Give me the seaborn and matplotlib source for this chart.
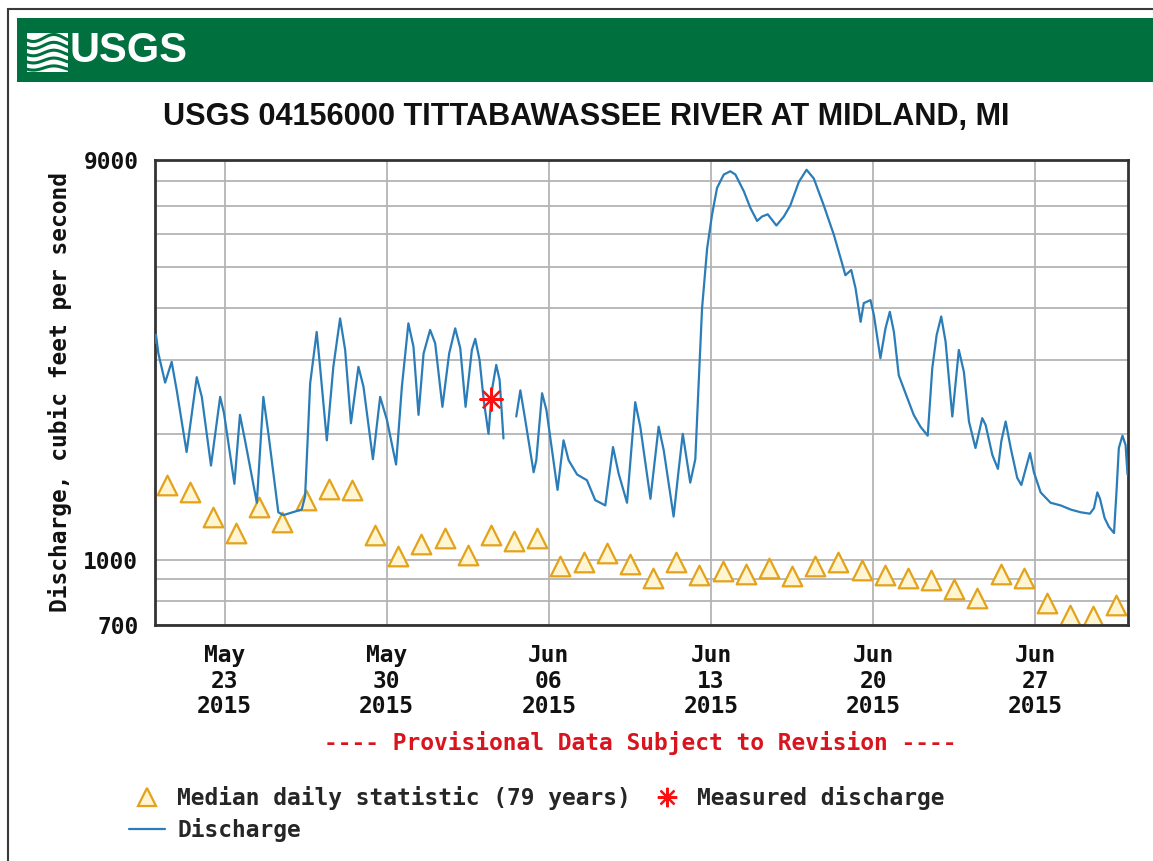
import numpy as np
import pandas as pd
import matplotlib
matplotlib.use("Agg")
import matplotlib.pyplot as plt
import matplotlib.dates as mdates
import matplotlib.ticker as mticker
from matplotlib.patches import Rectangle
from matplotlib.lines import Line2D
from matplotlib import font_manager
import seaborn as sns

# ---------------- data ----------------
median_start = "2015-05-20 12:00"
median_cfs = [1510, 1450, 1270, 1160, 1340, 1230, 1390, 1480, 1470, 1150,
              1020, 1090, 1130, 1030, 1150, 1110, 1130, 970, 990, 1040,
              980, 905, 990, 920, 940, 925, 955, 915, 970, 990,
              946, 920, 905, 895, 852, 810, 925, 905, 790, 740,
              736, 780]

measured_time = ["2015-06-03 12:15"]
measured_cfs = [2420]

dis_time_1 = ["05-20 00:15", "05-20 01:00", "05-20 03:30", "05-20 10:30", "05-20 17:15", "05-20 22:30",
              "05-21 08:45", "05-21 19:15", "05-22 00:30", "05-22 10:00", "05-22 19:30", "05-22 23:30",
              "05-23 10:15", "05-23 16:00", "05-23 21:15", "05-24 09:30", "05-24 16:15", "05-24 21:30",
              "05-25 07:45", "05-25 13:00", "05-26 08:00", "05-26 11:30", "05-26 16:45", "05-26 23:30",
              "05-27 03:00", "05-27 10:00", "05-27 16:45", "05-27 23:45", "05-28 05:00", "05-28 11:00",
              "05-28 18:45", "05-29 00:00", "05-29 09:45", "05-29 17:15", "05-30 00:15", "05-30 09:45",
              "05-30 15:45", "05-30 22:30", "05-31 03:45", "05-31 09:00", "05-31 14:15", "05-31 21:00",
              "06-01 02:15", "06-01 09:45", "06-01 16:45", "06-01 23:00", "06-02 04:15", "06-02 09:45",
              "06-02 16:15", "06-02 19:45", "06-03 00:15", "06-03 04:30", "06-03 09:30", "06-03 13:00",
              "06-03 17:30", "06-03 21:00", "06-04 01:00"]
dis_cfs_1 = [3300, 3450, 3110, 2650, 2970, 2540,
             1810, 2730, 2450, 1680, 2450, 2240,
             1520, 2220, 1930, 1370, 2450, 2000,
             1300, 1280, 1320, 1420, 2640, 3500,
             2890, 1930, 2890, 3770, 3170, 2120,
             2890, 2590, 1740, 2450, 2160, 1690,
             2590, 3670, 3230, 2220, 3110, 3540,
             3290, 2320, 3110, 3570, 3200, 2320,
             3170, 3370, 3000, 2410, 2000, 2540,
             2920, 2690, 1950]

dis_time_2 = ["06-04 14:15", "06-04 18:30", "06-04 23:00", "06-05 08:15", "06-05 11:00", "06-05 17:00",
              "06-05 21:30", "06-06 09:00", "06-06 15:15", "06-06 20:30", "06-07 05:15", "06-07 15:30",
              "06-08 00:00", "06-08 10:30", "06-08 18:30", "06-09 00:15", "06-09 09:00", "06-09 14:15",
              "06-09 17:30", "06-09 22:45", "06-10 09:15", "06-10 17:45", "06-10 23:00", "06-11 09:15",
              "06-11 14:30", "06-11 18:45", "06-12 02:30", "06-12 07:45", "06-12 11:15", "06-12 14:45",
              "06-12 20:00", "06-13 01:00", "06-13 06:15", "06-13 13:15", "06-13 20:00", "06-14 01:15",
              "06-14 10:00", "06-14 16:45", "06-14 23:45", "06-15 05:00", "06-15 10:45", "06-15 19:45",
              "06-16 03:30", "06-16 10:15", "06-16 19:00", "06-17 03:00", "06-17 10:30", "06-17 20:45",
              "06-18 07:15", "06-18 14:15", "06-18 19:15", "06-19 01:15", "06-19 05:45", "06-19 11:00",
              "06-19 14:15", "06-19 21:15", "06-20 00:45", "06-20 07:30", "06-20 12:45", "06-20 17:15",
              "06-20 21:30", "06-21 02:30", "06-21 09:30", "06-21 18:00", "06-22 01:00", "06-22 08:30",
              "06-22 13:15", "06-22 17:45", "06-22 22:30", "06-23 03:00", "06-23 10:00", "06-23 13:30",
              "06-23 16:45", "06-23 22:00", "06-24 03:15", "06-24 10:00", "06-24 17:00", "06-24 20:30",
              "06-25 03:30", "06-25 09:15", "06-25 12:45", "06-25 17:15", "06-25 22:30", "06-26 05:15",
              "06-26 09:30", "06-26 14:00", "06-26 18:30", "06-26 22:30", "06-27 05:30", "06-27 15:45",
              "06-28 02:15", "06-28 12:30", "06-28 23:00", "06-29 08:30", "06-29 12:45", "06-29 16:15",
              "06-29 19:00", "06-29 23:45", "06-30 04:15", "06-30 09:30", "06-30 12:15", "06-30 14:30",
              "06-30 18:15", "06-30 21:30", "06-30 23:30"]
dis_cfs_2 = [2200, 2540, 2200, 1620, 1730, 2500,
             2280, 1470, 1930, 1730, 1600, 1550,
             1390, 1350, 1860, 1610, 1370, 1930,
             2380, 2080, 1400, 2080, 1830, 1270,
             1640, 2000, 1530, 1740, 2650, 3990,
             5540, 6650, 7720, 8310, 8460, 8310,
             7580, 6920, 6440, 6600, 6680, 6280,
             6600, 7020, 7980, 8530, 8130, 7020,
             5970, 5250, 4780, 4920, 4450, 3700,
             4100, 4170, 3840, 3030, 3570, 3910,
             3500, 2760, 2500, 2220, 2080, 1980,
             2870, 3440, 3810, 3320, 2200, 2660,
             3170, 2810, 2140, 1850, 2180, 2100,
             1780, 1650, 1920, 2140, 1850, 1570,
             1510, 1650, 1800, 1620, 1450, 1370,
             1350, 1320, 1300, 1290, 1330, 1450,
             1400, 1260, 1200, 1160, 1480, 1850,
             1980, 1880, 1600]

x_tick_dates = ["2015-05-23", "2015-05-30", "2015-06-06", "2015-06-13", "2015-06-20", "2015-06-27"]
y_major = [700, 1000, 9000]
y_minor = [800, 900, 2000, 3000, 4000, 5000, 6000, 7000, 8000]

title = "USGS 04156000 TITTABAWASSEE RIVER AT MIDLAND, MI"
ylabel = "Discharge, cubic feet per second"
note = "---- Provisional Data Subject to Revision ----"
leg_median = "Median daily statistic (79 years)"
leg_meas = "Measured discharge"
leg_dis = "Discharge"

# ---------------- frames ----------------
df_dis = pd.concat([
    pd.DataFrame({"time": pd.to_datetime(["2015-" + t for t in dis_time_1]), "cfs": dis_cfs_1, "seg": 1}),
    pd.DataFrame({"time": pd.to_datetime(["2015-" + t for t in dis_time_2]), "cfs": dis_cfs_2, "seg": 2}),
], ignore_index=True)
df_med = pd.DataFrame({"time": pd.date_range(median_start, periods=len(median_cfs), freq="D"),
                       "cfs": median_cfs})
df_meas = pd.DataFrame({"time": pd.to_datetime(measured_time), "cfs": measured_cfs})

# ---------------- style ----------------
sns.set_theme(style="white")
plt.rcParams["font.family"] = ["DejaVu Sans Mono"]
plt.rcParams["font.weight"] = "bold"
names = {f.name for f in font_manager.fontManager.ttflist}
narrow = "Liberation Sans Narrow" if "Liberation Sans Narrow" in names else "Liberation Sans"
title_size = 26.5 if narrow == "Liberation Sans Narrow" else 22.1
logo_size = 38 if narrow == "Liberation Sans Narrow" else 30

W, H = 1153, 861
MONO = 16.5
BLUE = "#2a7db8"
TRI_EDGE = "#e3a21a"
TRI_FACE = "#fff5d2"

fig = plt.figure(figsize=(W / 100, H / 100), dpi=100)
fig.patch.set_facecolor("white")

# outer border and banner
fig.add_artist(Rectangle((8 / W, -0.05), 1.2, 1 - 9 / H + 0.05, transform=fig.transFigure,
                         fill=False, ec="#3a3a3a", lw=1.5))
fig.add_artist(Rectangle((17 / W, 1 - 82 / H), 1.2, 64 / H, transform=fig.transFigure,
                         fc="#00703f", ec="none"))
# wave emblem
fig.add_artist(Rectangle((27 / W, 1 - 72 / H), 41 / W, 39 / H, transform=fig.transFigure,
                         fc="white", ec="none"))
xs = np.linspace(27, 68, 60)
for i in range(5):
    y0 = 38 + i * 7.5
    ys = y0 + 3.5 * np.sin((xs - 27) / 41 * 2 * np.pi + 0.6) * (1 - i * 0.1)
    fig.add_artist(Line2D(xs / W, 1 - ys / H, transform=fig.transFigure, color="#00703f", lw=2.2))
fig.text(70 / W, 1 - 51 / H, "USGS", color="white", family=narrow, weight="bold",
         fontsize=logo_size, va="center", ha="left")

fig.text(586 / W, 1 - 117 / H, title, family=narrow, weight="bold", fontsize=title_size,
         color="#111111", ha="center", va="center")

ax = fig.add_axes([155 / W, 1 - 625 / H, (1128 - 155) / W, (625 - 160) / H])

sns.lineplot(data=df_dis, x="time", y="cfs", units="seg", estimator=None, color=BLUE,
             lw=1.6, ax=ax, legend=False, zorder=3)
sns.scatterplot(data=df_med, x="time", y="cfs", marker="^", s=200, color=TRI_FACE,
                edgecolor=TRI_EDGE, linewidth=1.6, ax=ax, legend=False, zorder=2)
sns.scatterplot(data=df_meas, x="time", y="cfs", marker=(8, 2, 0), s=260, color="#ff1010",
                linewidth=1.6, ax=ax, legend=False, zorder=4)

ax.set_yscale("log")
ax.set_ylim(700, 9000)
ax.set_xlim(pd.Timestamp("2015-05-20 00:00"), pd.Timestamp("2015-07-01 00:00"))

ax.yaxis.set_major_locator(mticker.FixedLocator(y_major))
ax.yaxis.set_major_formatter(mticker.FuncFormatter(lambda v, p: f"{int(round(v))}"))
ax.yaxis.set_minor_locator(mticker.FixedLocator(y_minor))
ax.yaxis.set_minor_formatter(mticker.NullFormatter())
ax.xaxis.set_major_locator(mticker.FixedLocator(mdates.date2num(pd.to_datetime(x_tick_dates))))
ax.xaxis.set_major_formatter(mdates.DateFormatter("%b\n%d\n%Y"))
ax.xaxis.set_minor_locator(mticker.NullLocator())

ax.grid(True, which="both", axis="y", color="#b4b4b4", lw=1.3)
ax.grid(True, which="major", axis="x", color="#b4b4b4", lw=1.3)
ax.set_axisbelow(True)
for s in ax.spines.values():
    s.set_color("#333333")
    s.set_linewidth(2)

ax.tick_params(axis="both", which="both", length=0, labelsize=MONO, colors="#111111")
ax.tick_params(axis="x", pad=14)
ax.tick_params(axis="y", pad=12)
for t in ax.xaxis.get_major_ticks():
    t.label1.set_linespacing(1.13)
    t.label1.set_fontweight("bold")

ax.set_xlabel("")
ax.set_ylabel(ylabel, fontsize=MONO, weight="bold", color="#111111", labelpad=8)

fig.text(640 / W, 1 - 743 / H, note, color="#d8141e", fontsize=MONO, weight="bold",
         ha="center", va="center")

handles = [
    Line2D([], [], ls="none", marker="^", markersize=13, mfc=TRI_FACE, mec=TRI_EDGE, mew=1.6),
    Line2D([], [], color=BLUE, lw=1.6),
    Line2D([], [], ls="none", marker=(8, 2, 0), markersize=14, color="#ff1010", mew=1.6),
]
labels = [leg_median, leg_dis, leg_meas]
fig.legend(handles, labels, loc="upper left", bbox_to_anchor=(129 / W, 1 - 786 / H),
           ncol=2, frameon=False, fontsize=MONO, handlelength=1.55, handletextpad=0.55,
           columnspacing=0.8, labelspacing=0.35, borderpad=0, borderaxespad=0,
           prop={"family": "DejaVu Sans Mono", "weight": "bold", "size": MONO})

fig.savefig("out.png", dpi=100)
